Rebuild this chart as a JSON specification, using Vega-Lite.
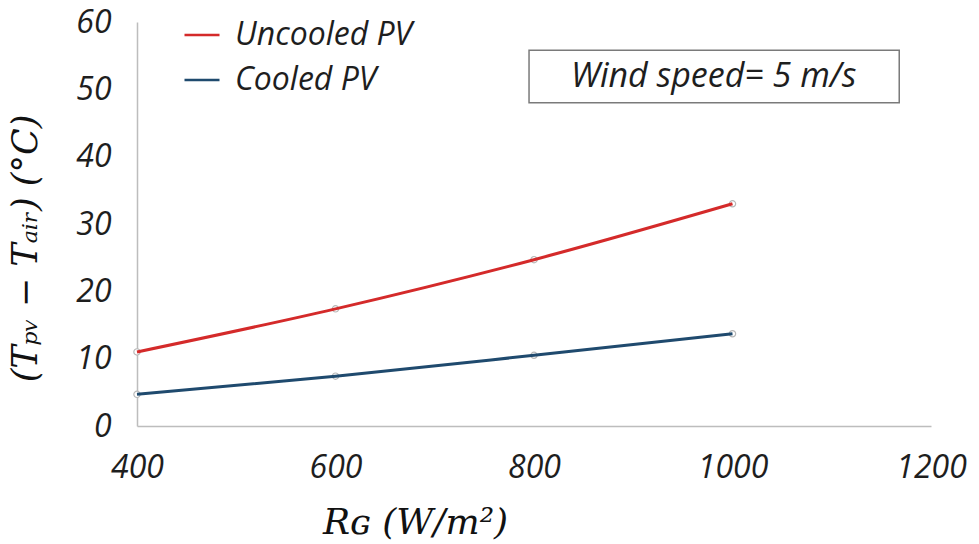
{
  "$schema": "https://vega.github.io/schema/vega-lite/v6.json",
  "width": 794,
  "height": 404,
  "autosize": {"type": "none"},
  "padding": {"left": 137, "top": 22, "right": 48, "bottom": 118},
  "background": "white",
  "config": {"view": {"stroke": null}, "font": "Open Sans"},
  "datasets": {
    "pv": [
      {"rg": 400, "dt": 11.0, "series": "Uncooled PV"},
      {"rg": 600, "dt": 17.4, "series": "Uncooled PV"},
      {"rg": 800, "dt": 24.7, "series": "Uncooled PV"},
      {"rg": 1000, "dt": 33.0, "series": "Uncooled PV"},
      {"rg": 400, "dt": 4.7, "series": "Cooled PV"},
      {"rg": 600, "dt": 7.4, "series": "Cooled PV"},
      {"rg": 800, "dt": 10.5, "series": "Cooled PV"},
      {"rg": 1000, "dt": 13.7, "series": "Cooled PV"}
    ],
    "note": [
      {"x1": 795, "x2": 1168, "y1": 55.8, "y2": 48.0, "xc": 981, "yc": 51.9, "label": "Wind speed= 5 m/s"}
    ]
  },
  "layer": [
    {
      "data": {"name": "pv"},
      "mark": {"type": "point", "filled": true, "fill": "white", "stroke": "#b8b8b8", "strokeWidth": 1.2, "size": 40, "opacity": 1},
      "encoding": {
        "x": {"field": "rg", "type": "quantitative"},
        "y": {"field": "dt", "type": "quantitative"}
      }
    },
    {
      "data": {"name": "pv"},
      "mark": {"type": "line", "strokeWidth": 3, "interpolate": "monotone"},
      "encoding": {
        "x": {
          "field": "rg", "type": "quantitative",
          "scale": {"domain": [400, 1200], "nice": false, "zero": false},
          "axis": {
            "values": [400, 600, 800, 1000, 1200], "format": "d",
            "title": "Rɢ (W/m²)",
            "titleFont": "DejaVu Serif", "titleFontStyle": "italic", "titleFontWeight": "normal",
            "titleFontSize": 36, "titleColor": "#111",
            "titleX": 278, "titleY": 96, "titleBaseline": "middle", "titleAlign": "center",
            "labelFont": "Open Sans", "labelFontStyle": "italic", "labelFontSize": 32, "labelColor": "#1e1e1e",
            "labelPadding": 26, "labelFlush": false,
            "ticks": false, "grid": false, "domainColor": "#bdbdbd", "domainWidth": 1.5
          }
        },
        "y": {
          "field": "dt", "type": "quantitative",
          "scale": {"domain": [0, 60], "nice": false},
          "axis": {
            "values": [0, 10, 20, 30, 40, 50, 60],
            "title": "(Tₚᵥ − Tₐᵢᵣ) (°C)",
            "titleFont": "DejaVu Serif", "titleFontStyle": "italic", "titleFontWeight": "normal",
            "titleFontSize": 35, "titleColor": "#111",
            "titleAngle": -90, "titleX": -112, "titleY": 226, "titleBaseline": "middle", "titleAlign": "center",
            "labelFont": "Open Sans", "labelFontStyle": "italic", "labelFontSize": 32, "labelColor": "#1e1e1e",
            "labelPadding": 26, "labelFlush": false,
            "ticks": false, "grid": false, "domainColor": "#bdbdbd", "domainWidth": 1.5
          }
        },
        "color": {
          "field": "series", "type": "nominal",
          "scale": {"domain": ["Uncooled PV", "Cooled PV"], "range": ["#d42a2a", "#1f4a6e"]},
          "legend": {
            "orient": "none", "legendX": 46, "legendY": -6, "title": null,
            "symbolType": "stroke", "symbolSize": 1225, "symbolStrokeWidth": 2.5,
            "labelFont": "Open Sans", "labelFontStyle": "italic", "labelFontSize": 32, "labelColor": "#1e1e1e",
            "labelLimit": 0, "labelOffset": 14, "rowPadding": 10, "padding": 0
          }
        }
      }
    },
    {
      "data": {"name": "note"},
      "mark": {"type": "rect", "fill": "white", "stroke": "#7a7a7a", "strokeWidth": 1.5},
      "encoding": {
        "x": {"field": "x1", "type": "quantitative"},
        "x2": {"field": "x2"},
        "y": {"field": "y1", "type": "quantitative"},
        "y2": {"field": "y2"}
      }
    },
    {
      "data": {"name": "note"},
      "mark": {"type": "text", "font": "Open Sans", "fontStyle": "italic", "fontSize": 34, "color": "#1e1e1e", "align": "center", "baseline": "middle"},
      "encoding": {
        "x": {"field": "xc", "type": "quantitative"},
        "y": {"field": "yc", "type": "quantitative"},
        "text": {"field": "label"}
      }
    }
  ]
}
